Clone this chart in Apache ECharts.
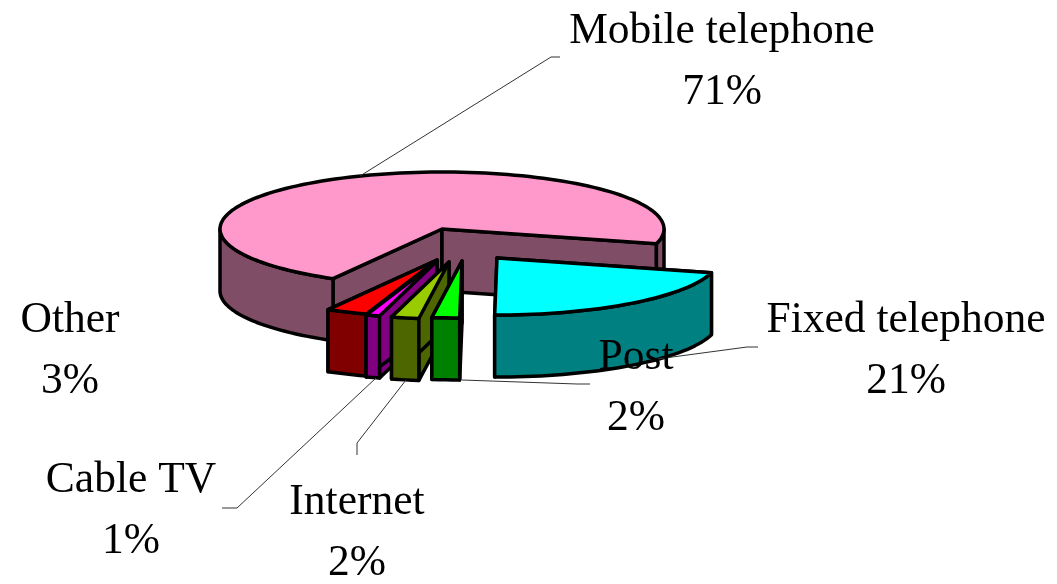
<!DOCTYPE html>
<html>
<head>
<meta charset="utf-8">
<style>html,body{margin:0;padding:0;background:#fff}#c{width:1057px;height:584px}</style>
<script src="https://cdn.jsdelivr.net/npm/echarts@6/dist/echarts.min.js"></script>
</head>
<body>
<div id="c"></div>
<script>
// Data: clockwise around the pie, beginning with the largest slice
const categories = ['Mobile telephone', 'Fixed telephone', 'Post', 'Internet', 'Cable TV', 'Other'];
const shares = [71, 21, 2, 2, 1, 3];

// Style and layout, per slice in the same order
const topColors = ['#FF99CC', '#00FFFF', '#00FF00', '#99CC00', '#FF00FF', '#FF0000'];
const sideColors = ['#804D66', '#008080', '#008000', '#4D6600', '#800080', '#800000'];
const drawRank = [0, 5, 4, 3, 2, 1];
const explode = [[0, 0], [55, 29], [20, 32], [7, 33], [-5, 32], [-5, 31]];
const labelAt = [[722, 62], [906, 351], [636, 388], [357, 533], [131, 511], [70, 351]];
const leaders = [
  [[360, 176], [551, 57], [560, 57]],
  [[650, 360], [747, 347], [758, 347]],
  [[462, 380], [577, 384], [590, 384]],
  [[406, 380], [357, 443], [357, 455]],
  [[376, 378], [237, 508], [222, 508]],
  null
];

const CX = 442, CY = 229, RX = 222, RY = 57, DEPTH = 62, START_DEG = 119.4;
const total = shares.reduce((a, b) => a + b, 0);
const starts = [];
shares.reduce((acc, v, i) => { starts[i] = acc; return acc + v / total * 360; }, START_DEG);

function rad(d) { return d * Math.PI / 180; }
function rimPoint(c, deg) { return [c[0] + RX * Math.cos(rad(deg)), c[1] + RY * Math.sin(rad(deg))]; }
function arc(c, a0, a1) {
  const n = Math.max(2, Math.ceil(Math.abs(a1 - a0) / 2)), out = [];
  for (let i = 0; i <= n; i++) out.push(rimPoint(c, a0 + (a1 - a0) * i / n));
  return out;
}
function down(p) { return [p[0], p[1] + DEPTH]; }

function renderItem(params, api) {
  const i = params.dataIndex;
  const value = api.value(0);
  const a0 = starts[i], a1 = a0 + value / total * 360;
  const c = [CX + explode[i][0], CY + explode[i][1]];
  const base = (drawRank[i] + 1) * 10;
  const stroke = { stroke: '#000', lineWidth: 3.5, lineJoin: 'round' };
  const side = Object.assign({ fill: sideColors[i] }, stroke);
  const poly = (points, style, z2) => ({ type: 'polygon', shape: { points }, style, z2 });
  const kids = [];

  // inner cut walls
  [a0, a1].forEach(function (a, k) {
    const p = rimPoint(c, a);
    kids.push(poly([c, p, down(p), down(c)], side, base + k));
  });
  // outer wall: only the front half of the rim (0–180 degrees, also +360)
  [[0, 180], [360, 540]].forEach(function (r, k) {
    const lo = Math.max(a0, r[0]), hi = Math.min(a1, r[1]);
    if (hi > lo) {
      const top = arc(c, lo, hi);
      kids.push(poly(top.concat(top.slice().reverse().map(down)), side, base + 2 + k));
    }
  });
  // top face
  kids.push(poly([c].concat(arc(c, a0, a1)), Object.assign({ fill: topColors[i] }, stroke), base + 5));

  // leader line
  if (leaders[i]) {
    kids.push({ type: 'polyline', shape: { points: leaders[i] },
      style: { stroke: '#333', lineWidth: 1, fill: null }, z2: 100 });
  }
  // label
  kids.push({ type: 'text', z2: 200, style: {
    x: labelAt[i][0], y: labelAt[i][1],
    text: categories[i] + '\n' + value + '%',
    fill: '#000', align: 'center', verticalAlign: 'middle',
    textAlign: 'center', textVerticalAlign: 'middle',
    font: '43.5px "Liberation Serif"', lineHeight: 61
  }});
  return { type: 'group', children: kids };
}

const chart = echarts.init(document.getElementById('c'), null, { renderer: 'canvas' });
chart.setOption({
  animation: false,
  backgroundColor: '#fff',
  series: [{
    type: 'custom',
    coordinateSystem: 'none',
    renderItem: renderItem,
    data: shares.map((v, i) => ({ name: categories[i], value: [v] })),
    silent: true
  }]
});
</script>
</body>
</html>
